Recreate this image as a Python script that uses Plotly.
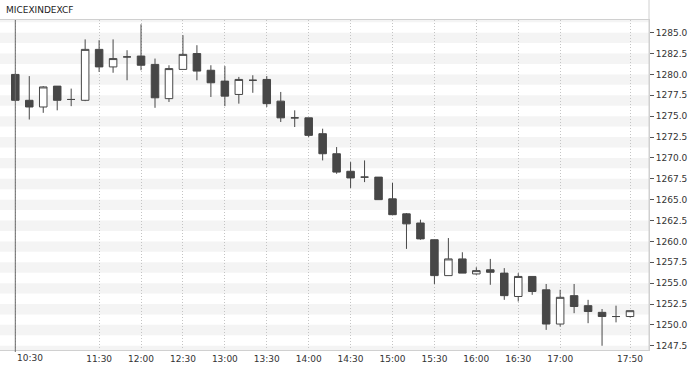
import plotly.graph_objects as go

DAY = "2024-01-15 "
times = ["10:30", "10:40", "10:50", "11:00", "11:10", "11:20", "11:30", "11:40", "11:50",
         "12:00", "12:10", "12:20", "12:30", "12:40", "12:50", "13:00", "13:10", "13:20",
         "13:30", "13:40", "13:50", "14:00", "14:10", "14:20", "14:30", "14:40", "14:50",
         "15:00", "15:10", "15:20", "15:30", "15:40", "15:50", "16:00", "16:10", "16:20",
         "16:30", "16:40", "16:50", "17:00", "17:10", "17:20", "17:30", "17:40", "17:50"]
open_ = [1280.0, 1276.9, 1276.1, 1278.6, 1277.0, 1276.9, 1283.0, 1280.9, 1282.1,
         1282.2, 1281.2, 1277.1, 1280.6, 1282.5, 1280.5, 1279.2, 1277.6, 1279.3,
         1279.4, 1276.8, 1274.8, 1274.8, 1272.9, 1270.5, 1268.4, 1267.7, 1267.7,
         1265.1, 1263.3, 1262.2, 1260.2, 1255.9, 1257.9, 1256.1, 1256.6, 1256.2,
         1253.4, 1255.8, 1254.2, 1250.1, 1253.5, 1252.3, 1251.5, 1251.0, 1251.0]
high = [1280.1, 1279.8, 1278.6, 1278.6, 1278.3, 1284.2, 1284.1, 1284.2, 1282.9,
        1286.0, 1281.9, 1281.1, 1284.7, 1283.5, 1281.1, 1281.0, 1279.7, 1279.9,
        1279.8, 1277.9, 1275.7, 1274.8, 1273.5, 1271.3, 1269.5, 1269.7, 1267.7,
        1267.0, 1263.4, 1262.6, 1260.2, 1260.4, 1258.7, 1256.9, 1257.9, 1256.8,
        1256.2, 1255.8, 1254.9, 1254.2, 1254.9, 1253.0, 1251.9, 1252.3, 1251.7]
low = [1276.8, 1274.6, 1275.4, 1275.7, 1276.2, 1276.8, 1280.3, 1280.2, 1279.3,
       1280.5, 1276.0, 1276.7, 1280.6, 1279.3, 1277.3, 1276.2, 1276.5, 1277.8,
       1276.1, 1274.3, 1273.7, 1272.5, 1269.7, 1268.1, 1266.4, 1267.1, 1265.0,
       1263.2, 1259.1, 1260.2, 1254.9, 1255.9, 1256.2, 1256.0, 1254.8, 1253.0,
       1252.8, 1253.6, 1249.4, 1249.8, 1251.4, 1250.2, 1247.5, 1250.3, 1250.9]
close = [1276.9, 1276.1, 1278.5, 1276.9, 1277.0, 1283.0, 1280.9, 1281.9, 1282.1,
         1281.1, 1277.2, 1280.7, 1282.4, 1280.4, 1279.0, 1277.4, 1279.4, 1279.3,
         1276.5, 1274.8, 1274.8, 1272.7, 1270.5, 1268.3, 1267.6, 1267.7, 1265.0,
         1263.2, 1262.1, 1260.3, 1255.9, 1257.9, 1256.2, 1256.5, 1256.3, 1253.5,
         1255.8, 1254.0, 1250.1, 1253.3, 1252.2, 1251.6, 1251.0, 1251.0, 1251.7]

tick_times = ["10:30", "11:30", "12:00", "12:30", "13:00", "13:30", "14:00", "14:30",
              "15:00", "15:30", "16:00", "16:30", "17:00", "17:50"]
y_ticks = [1247.5, 1250.0, 1252.5, 1255.0, 1257.5, 1260.0, 1262.5, 1265.0, 1267.5,
           1270.0, 1272.5, 1275.0, 1277.5, 1280.0, 1282.5, 1285.0]
title_text = "MICEXINDEXCF"

DARK = "#474747"
FONT = dict(family="DejaVu Sans", size=9, color="#333333")

x = [DAY + t for t in times]

fig = go.Figure()
fig.add_trace(go.Candlestick(
    x=x, open=open_, high=high, low=low, close=close,
    increasing=dict(line=dict(color=DARK, width=1), fillcolor="#ffffff"),
    decreasing=dict(line=dict(color=DARK, width=1), fillcolor=DARK),
    whiskerwidth=0, showlegend=False, hoverinfo="skip",
))

shapes = []
# alternating stripes: shaded half-interval below each y tick
for v in y_ticks:
    shapes.append(dict(type="rect", xref="paper", x0=0, x1=1, yref="y",
                       y0=v - 1.25, y1=v, fillcolor="#f4f4f4", line=dict(width=0),
                       layer="below"))
shapes.append(dict(type="rect", xref="paper", x0=0, x1=1, yref="y",
                   y0=y_ticks[-1] + 1.25, y1=y_ticks[-1] + 2.5, fillcolor="#f4f4f4",
                   line=dict(width=0), layer="below"))
# solid marker line at first candle
shapes.append(dict(type="line", xref="x", x0=x[0], x1=x[0], yref="paper", y0=-0.006, y1=1,
                   line=dict(color="#6a6a6a", width=1), layer="above"))
# right border extending into header
shapes.append(dict(type="line", xref="paper", x0=1, x1=1, yref="paper", y0=0, y1=1 + 20 / 330,
                   line=dict(color="#d0d0d0", width=1)))

# first tick label is drawn left-aligned as an annotation (like the reference)
ticktext = ["" if t == tick_times[0] else t for t in tick_times]

annotations = [
    dict(text=title_text, xref="paper", yref="paper", x=0, y=1,
         xanchor="left", yanchor="middle", xshift=4, yshift=10,
         showarrow=False, font=dict(family="DejaVu Sans", size=9, color="#222222")),
    dict(text=tick_times[0], xref="x", yref="paper", x=DAY + tick_times[0], y=0,
         xanchor="left", yanchor="middle", xshift=0, yshift=-8,
         showarrow=False, font=FONT),
]

fig.update_layout(
    width=692, height=369,
    margin=dict(l=0, r=43, t=20, b=19, autoexpand=False),
    paper_bgcolor="#ffffff", plot_bgcolor="#ffffff",
    shapes=shapes,
    boxgap=0.23,
    annotations=annotations,
    xaxis=dict(
        type="date",
        range=[DAY + "10:19:03", DAY + "18:03:36"],
        rangeslider=dict(visible=False),
        tickvals=[DAY + t for t in tick_times], ticktext=ticktext,
        showgrid=True, gridcolor="#c4c4c4", griddash="1px,2px", gridwidth=1,
        showline=True, linecolor="#d0d0d0", linewidth=1, mirror=True,
        ticks="", tickfont=FONT, zeroline=False, automargin=False,
    ),
    yaxis=dict(
        side="right", range=[1246.99, 1286.52],
        tickvals=y_ticks, ticktext=[f"{v:.1f}" for v in y_ticks],
        showgrid=False, zeroline=False,
        showline=True, linecolor="#d0d0d0", linewidth=1,
        ticks="outside", ticklen=4, tickcolor="#555555", tickwidth=1,
        tickfont=FONT, automargin=False,
    ),
)

fig.write_html("out.html", config={"displayModeBar": False},
               post_script="document.body.style.margin='0px';")
